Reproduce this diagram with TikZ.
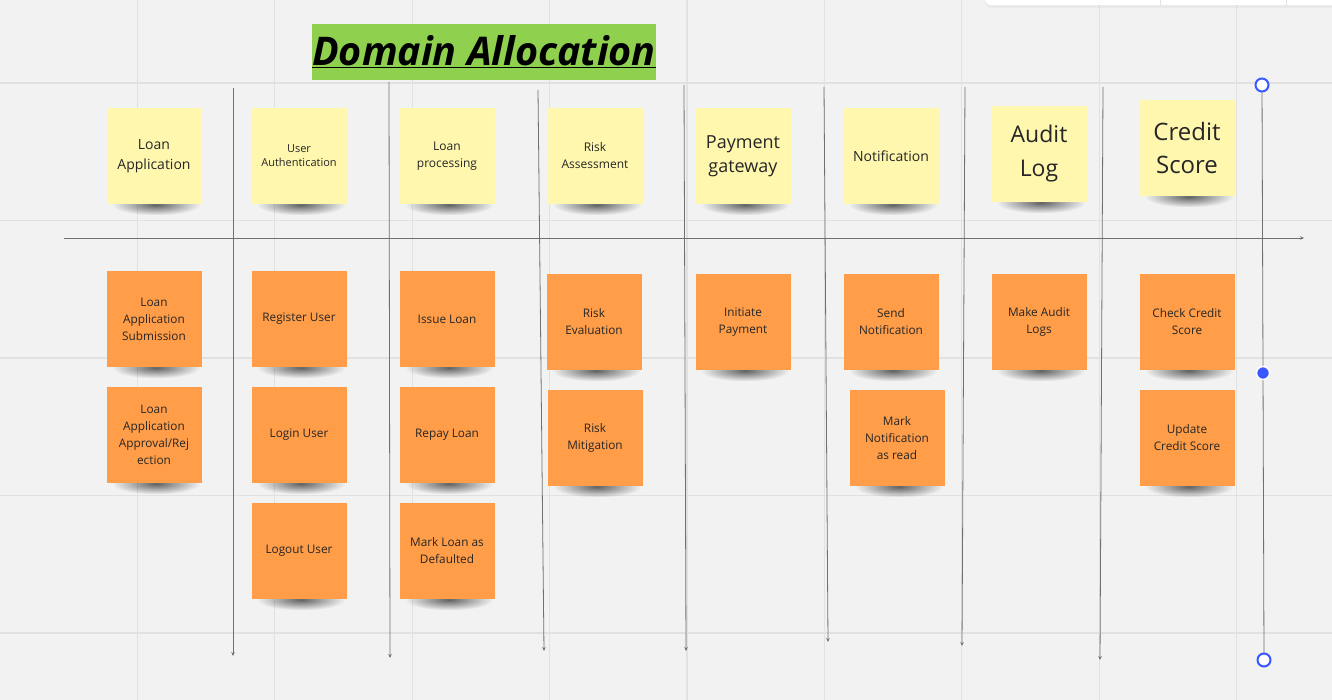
\documentclass[tikz,border=0pt]{standalone}
\usepackage{fontspec}
\setmainfont{Open Sans}
\usetikzlibrary{arrows.meta,shadows,fadings,backgrounds,calc}
\definecolor{board}{HTML}{F2F2F2}
\definecolor{gridgray}{HTML}{E1E1E1}
\definecolor{stickyyellow}{HTML}{FFF7AE}
\definecolor{stickyorange}{HTML}{FF9D48}
\definecolor{titlegreen}{HTML}{8FD14F}
\definecolor{handleblue}{HTML}{3859FF}
\definecolor{inkgray}{HTML}{707070}
\tikzfading[name=shadowband, inner color=transparent!0, outer color=transparent!100]
\begin{document}
\begin{tikzpicture}[x=1pt,y=-1pt,
    note/.style={minimum width=95pt, minimum height=96pt, inner sep=0pt, align=center, text=black!85},
    domainnote/.style={note, fill=stickyyellow},
    tasknote/.style={note, fill=stickyorange, font=\fontsize{11.8}{17}\selectfont},
    noteshadow/.style={fill=black, opacity=0.6, path fading=shadowband},
    lane/.style={draw=inkgray, line width=0.8pt, -{Stealth[length=4pt,width=3.5pt]}},
    handle/.style={circle, draw=handleblue, line width=2pt, fill=white, minimum size=13pt, inner sep=0pt}]
  \useasboundingbox (0,0) rectangle (1332,700);

  % title
  \node[fill=titlegreen, minimum width=344pt, minimum height=56pt, inner sep=0pt] (title) at (484,52)
    {\raisebox{-3pt}{\fontsize{39.5}{40}\selectfont\bfseries\itshape\underline{Domain Allocation}}};

  % lanes
  \coordinate (s1) at (233,88);   \coordinate (e1) at (233,656);
  \coordinate (s2) at (389,82);   \coordinate (e2) at (390,658);
  \coordinate (s3) at (538,90);   \coordinate (e3) at (544,651);
  \coordinate (s4) at (684,85);   \coordinate (e4) at (686,651);
  \coordinate (s5) at (824,87);   \coordinate (e5) at (828,642);
  \coordinate (s6) at (965,87);   \coordinate (e6) at (962,646);
  \coordinate (s7) at (1103,87);  \coordinate (e7) at (1100,660);
  \coordinate (hs) at (64,238);   \coordinate (he) at (1304,238);
  \foreach \k in {1,...,7}
    \draw[lane] (s\k) -- (e\k);
  \draw[lane] (hs) -- (he);

  % domains
  \node[domainnote, font=\fontsize{14}{20}\selectfont] (loanapp) at (154,156) {Loan\\Application};
  \node[domainnote, font=\fontsize{11}{14}\selectfont] (userauth) at (299,156) {User\\Authentication};
  \node[domainnote, font=\fontsize{12}{17}\selectfont] (loanproc) at (447,156) {Loan\\processing};
  \node[domainnote, font=\fontsize{12}{17}\selectfont] (risk) at (595,156) {Risk\\Assessment};
  \node[domainnote, font=\fontsize{18}{24}\selectfont] (payment) at (743,156) {Payment\\gateway};
  \node[domainnote, font=\fontsize{14}{18}\selectfont] (notif) at (891,156) {Notification};
  \node[domainnote, font=\fontsize{23}{34}\selectfont] (audit) at (1039,154) {Audit\\Log};
  \node[domainnote, font=\fontsize{24}{33}\selectfont] (credit) at (1187,148) {Credit\\Score};

  % tasks
  \node[tasknote] (submit) at (154,319) {Loan\\Application\\Submission};
  \node[tasknote] (approve) at (154,435) {Loan\\Application\\Approval/Rej\\ection};
  \node[tasknote] (register) at (299,319) {Register User};
  \node[tasknote] (login) at (299,435) {Login User};
  \node[tasknote] (logout) at (299,551) {Logout User};
  \node[tasknote] (issue) at (447,319) {Issue Loan};
  \node[tasknote] (repay) at (447,435) {Repay Loan};
  \node[tasknote] (defaulted) at (447,551) {Mark Loan as\\Defaulted};
  \node[tasknote] (rEval) at (594,322) {Risk\\Evaluation};
  \node[tasknote] (rMit) at (595,438) {Risk\\Mitigation};
  \node[tasknote] (initpay) at (743,322) {Initiate\\Payment};
  \node[tasknote] (send) at (891,322) {Send\\Notification};
  \node[tasknote] (markread) at (897,438) {Mark\\Notification\\as read};
  \node[tasknote] (logs) at (1039,322) {Make Audit\\Logs};
  \node[tasknote] (check) at (1187,322) {Check Credit\\Score};
  \node[tasknote] (update) at (1187,438) {Update\\Credit Score};

  % selection handles
  \draw[inkgray, line width=0.8pt] (1262,85) -- (1264,660);
  \node[handle] (htop) at (1262,85) {};
  \node[handle] (hbot) at (1264,660) {};
  \node[circle, fill=handleblue, draw=white, line width=1.5pt, minimum size=13pt, inner sep=0pt] (hmid) at (1263,373) {};

  % board, grid and note shadows
  \begin{pgfonlayer}{background}
    \fill[board] (0,0) rectangle (1332,700);
    \foreach \i in {1,...,9}
      \draw[gridgray, line width=1.2pt] (137.4*\i,0) -- (137.4*\i,700);
    \foreach \j in {0,...,4}
      \draw[gridgray, line width=1.2pt] (0,83+137.5*\j) -- (1332,83+137.5*\j);
    \fill[white, drop shadow={shadow xshift=0pt, shadow yshift=-3pt, opacity=0.08}, rounded corners=6pt] (985,-10) rectangle (1340,5);
    \draw[gridgray] (1160,-10) -- (1160,5);
    \draw[gridgray] (1286,-10) -- (1286,5);
    \foreach \n in {loanapp,userauth,loanproc,risk,payment,notif,audit,credit,
        submit,approve,register,login,logout,issue,repay,defaulted,rEval,rMit,
        initpay,send,markread,logs,check,update}
      \fill[noteshadow] ($(\n.south)+(-42,-10)$) rectangle ($(\n.south)+(46,11)$);
  \end{pgfonlayer}
\end{tikzpicture}
\end{document}
